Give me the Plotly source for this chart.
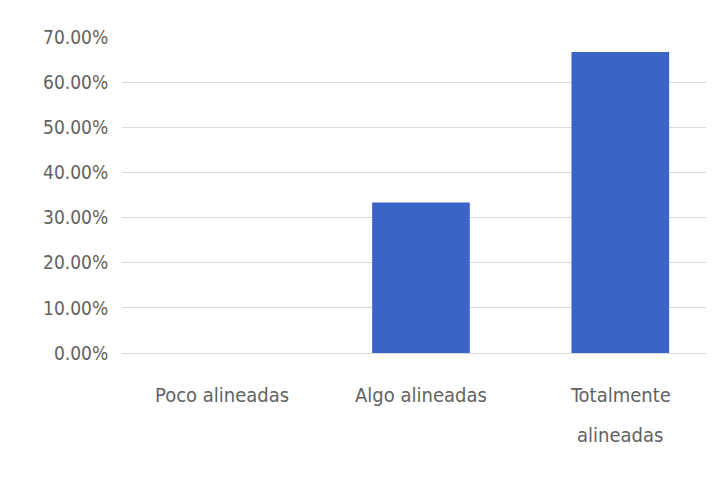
import plotly.graph_objects as go

categories = ["Poco alineadas", "Algo alineadas", "Totalmente alineadas"]
label_lines = [["Poco alineadas"], ["Algo alineadas"], ["Totalmente", "alineadas"]]
values = [0.0, 0.3333, 0.6667]
y_tickvals = [0, 0.1, 0.2, 0.3, 0.4, 0.5, 0.6, 0.7]
y_ticktext = ["0.00%", "10.00%", "20.00%", "30.00%", "40.00%", "50.00%", "60.00%", "70.00%"]

FONT = "Liberation Sans Narrow, DejaVu Sans Condensed, Arial Narrow, sans-serif"
GREY = "#626262"

fig = go.Figure()
fig.add_trace(go.Bar(
    x=categories, y=values,
    marker=dict(color="#3a65c6", line=dict(width=0)),
    width=0.49,
))

annotations = []
for cat, lines in zip(categories, label_lines):
    for i, line in enumerate(lines):
        annotations.append(dict(
            x=cat, xref="x", y=-0.133 - i * 0.127, yref="paper",
            text=line, showarrow=False, yanchor="middle", xanchor="center",
            font=dict(family=FONT, size=20, color=GREY),
        ))

fig.update_layout(
    width=706, height=479,
    margin=dict(l=114, r=0, t=29, b=134),
    paper_bgcolor="white", plot_bgcolor="white",
    showlegend=False,
    bargap=0.51,
    annotations=annotations,
    xaxis=dict(
        range=[-0.5, 2.47], showticklabels=False, showgrid=False,
        showline=True, linecolor="#d9d9d9", linewidth=1, zeroline=False,
        ticks="",
    ),
    yaxis=dict(
        range=[0, 0.7], tickvals=y_tickvals, ticktext=y_ticktext,
        showgrid=True, gridcolor="#d9d9d9", gridwidth=1, zeroline=False,
        showline=False, ticks="outside", ticklen=9, tickcolor="white",
        tickfont=dict(family=FONT, size=19, color=GREY),
    ),
)

fig.write_html("out.html")
